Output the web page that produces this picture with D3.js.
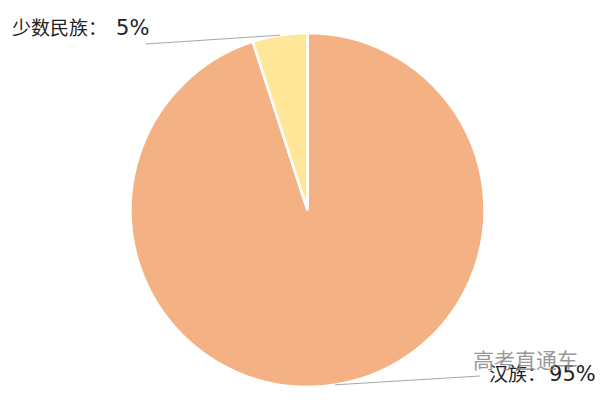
<!DOCTYPE html>
<html>
<head>
<meta charset="utf-8">
<script src="https://cdn.jsdelivr.net/npm/d3@7"></script>
<style>
  body { margin: 0; background: #fff; }
</style>
</head>
<body>
<div id="chart"></div>
<script>
// Data
var categories = ["汉族", "少数民族"];
var values = [95, 5];
var colors = ["#F4B183", "#FFE699"];

var width = 611, height = 400;
var cx = 307.5, cy = 210, radius = 177;

var svg = d3.select("#chart")
  .append("svg")
  .attr("width", width)
  .attr("height", height);

var g = svg.append("g")
  .attr("transform", "translate(" + cx + "," + cy + ")");

var pie = d3.pie().sort(null).value(function (d) { return d; });
var arcs = pie(values);
var arc = d3.arc().innerRadius(0).outerRadius(radius);

g.selectAll("path")
  .data(arcs)
  .enter()
  .append("path")
  .attr("d", arc)
  .attr("fill", function (d, i) { return colors[i]; })
  .attr("stroke", "#fff")
  .attr("stroke-width", 2.5);

// Labels with leader lines
var labelPos = [
  { lineEnd: [480, 376], tx: 489, ty: 381, gap: 3 },
  { lineEnd: [146, 44], tx: 12, ty: 35, gap: 9 }
];

arcs.forEach(function (d, i) {
  var p = labelPos[i];
  var mid = (d.startAngle + d.endAngle) / 2;
  var sx = cx + Math.sin(mid) * radius;
  var sy = cy - Math.cos(mid) * radius;
  svg.append("line")
    .attr("x1", sx).attr("y1", sy)
    .attr("x2", p.lineEnd[0]).attr("y2", p.lineEnd[1])
    .attr("stroke", "#a6a6a6")
    .attr("stroke-width", 1);
  var t = svg.append("text")
    .attr("x", p.tx).attr("y", p.ty)
    .style("fill", "#222");
  t.append("tspan")
    .style("font-family", "'Noto Sans CJK SC', sans-serif")
    .style("font-size", "19px")
    .text(categories[i] + "：");
  t.append("tspan")
    .attr("dx", p.gap)
    .style("font-family", "'DejaVu Sans', sans-serif")
    .style("font-size", "21px")
    .text(values[i] + "%");
});

// Watermark
svg.append("text")
  .attr("x", 473).attr("y", 368)
  .style("font-family", "'Noto Sans CJK SC', sans-serif")
  .style("font-size", "21px")
  .style("fill", "#888")
  .style("opacity", 0.85)
  .text("高考直通车");
</script>
</body>
</html>
